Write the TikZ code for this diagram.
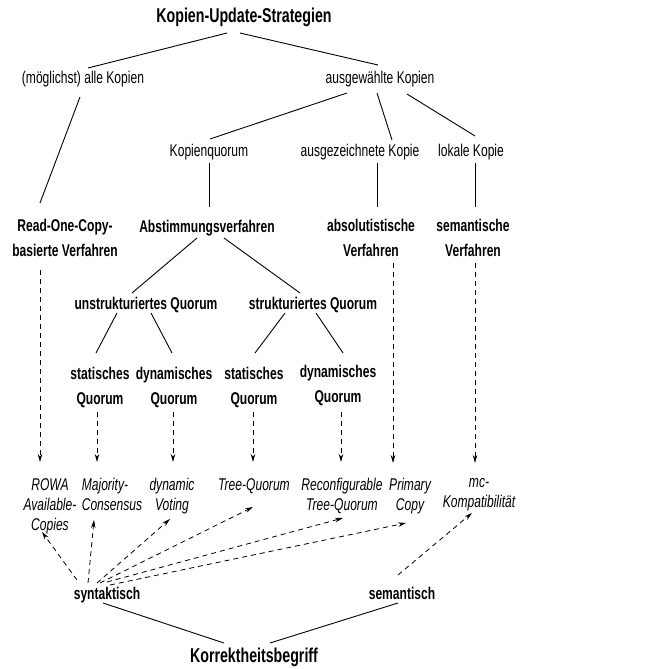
\documentclass[tikz,border=0pt]{standalone}
\usepackage{fontspec}
\setmainfont{Liberation Sans}[FakeStretch=0.71]
\usetikzlibrary{calc,arrows.meta}
\tikzset{
  lab/.style={inner sep=0pt, anchor=base, align=center},
  big/.style={lab, font=\fontsize{20}{24}\selectfont\bfseries},
  reg/.style={lab, font=\fontsize{17}{20}\selectfont},
  bld/.style={lab, font=\fontsize{17}{25}\selectfont\bfseries},
  itl/.style={lab, font=\fontsize{17}{20}\selectfont\itshape},
  edge/.style={line width=0.9pt},
  dar/.style={line width=0.8pt, dash pattern=on 5pt off 4pt, -{Stealth[length=8pt,width=4.5pt]}}
}
\newcommand{\off}[3]{($(#1.base)+(#2,#3)$)}
\begin{document}
\begin{tikzpicture}[x=1pt,y=-1pt]
\useasboundingbox (0,0) rectangle (672,669);
% nodes (multi-line nodes are placed at the baseline of their last line)
\node[big] (title) at (244,23) {Kopien-Update-Strategien};
\node[reg] (moeg) at (83,83) {(möglichst) alle Kopien};
\node[reg] (ausg) at (380,83) {ausgewählte Kopien};
\node[reg] (kq) at (209,156) {Kopienquorum};
\node[reg] (ak) at (360,156) {ausgezeichnete Kopie};
\node[reg] (lk) at (471,156) {lokale Kopie};
\node[bld] (roc) at (65,256) {Read-One-Copy-\\basierte Verfahren};
\node[bld] (abst) at (207,232) {Abstimmungsverfahren};
\node[bld] (absv) at (371,256) {absolutistische\\Verfahren};
\node[bld] (semv) at (473,256) {semantische\\Verfahren};
\node[bld] (unq) at (146,309) {unstrukturiertes Quorum};
\node[bld] (sq) at (313,309) {strukturiertes Quorum};
\node[bld] (sq1) at (100,404) {statisches\\Quorum};
\node[bld] (dq1) at (174,404) {dynamisches\\Quorum};
\node[bld] (sq2) at (254,404) {statisches\\Quorum};
\node[bld] (dq2) at (338,402) {dynamisches\\Quorum};
\node[itl] (rowa) at (50,530) {ROWA\\Available-\\Copies};
\node[itl, align=left] (maj) at (112,510) {Majority-\\Consensus};
\node[itl] (dyn) at (172,510) {dynamic\\Voting};
\node[itl] (tree) at (254,490) {Tree-Quorum};
\node[itl] (rtq) at (342,510) {Reconfigurable\\Tree-Quorum};
\node[itl] (pc) at (410,510) {Primary\\Copy};
\node[itl] (mc) at (479,507) {mc-\\Kompatibilität};
\node[bld] (syn) at (107,599) {syntaktisch};
\node[bld] (sem) at (402,599) {semantisch};
\node[big] (kor) at (254,662) {Korrektheitsbegriff};
% tree edges
\draw[edge] \off{title}{-17}{10} -- \off{moeg}{5}{-15};
\draw[edge] \off{title}{-4}{10} -- \off{ausg}{-2}{-18};
\draw[edge] \off{moeg}{-3}{14} -- \off{roc}{-25}{-53};
\draw[edge] \off{ausg}{-33}{10} -- \off{kq}{1}{-17};
\draw[edge] \off{ausg}{-3}{10} -- \off{ak}{32}{-16};
\draw[edge] \off{ausg}{27}{11} -- \off{lk}{4}{-20};
\draw[edge] \off{kq}{0}{7} -- \off{abst}{2}{-25};
\draw[edge] \off{ak}{17}{7} -- \off{absv}{6}{-49};
\draw[edge] \off{lk}{4}{7} -- \off{semv}{2}{-49};
\draw[edge] \off{abst}{-10}{6} -- \off{unq}{-14}{-16};
\draw[edge] \off{abst}{17}{6} -- \off{sq}{-13}{-16};
\draw[edge] \off{unq}{-29}{4} -- \off{sq1}{-4}{-51};
\draw[edge] \off{unq}{5}{4} -- \off{dq1}{-2}{-51};
\draw[edge] \off{sq}{-28}{4} -- \off{sq2}{1}{-51};
\draw[edge] \off{sq}{3}{4} -- \off{dq2}{5}{-49};
\draw[edge] \off{syn}{-4}{4} -- \off{kor}{-30}{-19};
\draw[edge] \off{sem}{-4}{4} -- \off{kor}{16}{-19};
% dashed arrows down
\draw[dar] \off{roc}{-25}{14} -- \off{rowa}{-10}{-68};
\draw[dar] \off{sq1}{-3}{8} -- \off{maj}{-15}{-48};
\draw[dar] \off{dq1}{-1}{8} -- \off{dyn}{1}{-48};
\draw[dar] \off{sq2}{-1}{8} -- \off{tree}{-1}{-28};
\draw[dar] \off{dq2}{3}{10} -- \off{rtq}{-1}{-48};
\draw[dar] \off{absv}{22}{7} -- \off{pc}{-17}{-47};
\draw[dar] \off{semv}{2}{7} -- \off{mc}{-4}{-44};
% dashed arrows up
\draw[dar] \off{syn}{-30}{-19} -- \off{rowa}{-8}{2};
\draw[dar] \off{syn}{-19}{-16} -- \off{maj}{-18}{10};
\draw[dar] \off{syn}{-10}{-16} -- \off{dyn}{-2}{9};
\draw[dar] \off{syn}{-7}{-16} -- \off{tree}{-1}{17};
\draw[dar] \off{syn}{0}{-17} -- \off{rtq}{1}{8};
\draw[dar] \off{syn}{3}{-14} -- \off{pc}{-4}{13};
\draw[dar] \off{sem}{-4}{-24} -- \off{mc}{-7}{6};
\end{tikzpicture}
\end{document}
